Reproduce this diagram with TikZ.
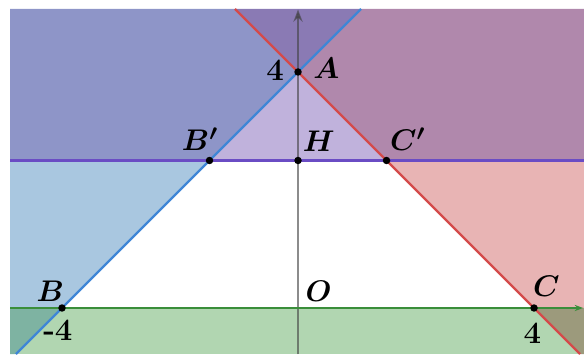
\documentclass[tikz,border=0pt]{standalone}
\usepackage{bm}
\usetikzlibrary{arrows.meta}
\definecolor{cTop}{HTML}{8A7AB4}
\definecolor{cUL}{HTML}{8E95C8}
\definecolor{cUR}{HTML}{B088AC}
\definecolor{cPur}{HTML}{C0B2DC}
\definecolor{cLB}{HTML}{A9C7E0}
\definecolor{cLR}{HTML}{E8B4B4}
\definecolor{cGr}{HTML}{B1D6B1}
\definecolor{cBL}{HTML}{7EB3A2}
\definecolor{cBR}{HTML}{9C9A7C}
\definecolor{lBlue}{HTML}{3F86D6}
\definecolor{lRed}{HTML}{D44A4A}
\definecolor{lPur}{HTML}{6A4CC4}
\definecolor{lGreen}{HTML}{3A8E3A}
\tikzset{
  lbl/.style={font=\fontsize{15}{18}\selectfont},
  pt/.style={circle,fill=black,inner sep=0pt,minimum size=3.6pt},
}
\begin{document}
\begin{tikzpicture}
\useasboundingbox (-5.051,-0.780) rectangle (4.847,5.220);
\def\xl{-4.881}\def\xr{4.847}\def\yb{-0.78}\def\yt{5.068}
% regions
\fill[cTop] (0,4) -- (-1.068,\yt) -- (1.068,\yt) -- cycle;
\fill[cUL] (\xl,2.5) -- (-1.5,2.5) -- (0,4) -- (-1.068,\yt) -- (\xl,\yt) -- cycle;
\fill[cUR] (1.5,2.5) -- (\xr,2.5) -- (\xr,\yt) -- (1.068,\yt) -- (0,4) -- cycle;
\fill[cPur] (-1.5,2.5) -- (1.5,2.5) -- (0,4) -- cycle;
\fill[cLB] (\xl,0) -- (-4,0) -- (-1.5,2.5) -- (\xl,2.5) -- cycle;
\fill[cLR] (4,0) -- (\xr,0) -- (\xr,2.5) -- (1.5,2.5) -- cycle;
\fill[cGr] (\xl,\yb) rectangle (\xr,0);
\fill[cBL] (\xl,0) -- (-4,0) -- (-4.78,\yb) -- (\xl,\yb) -- cycle;
\fill[cBR] (4,0) -- (\xr,0) -- (\xr,\yb) -- (4.78,\yb) -- cycle;
% points
\coordinate (A) at (0,4);
\coordinate (B) at (-4,0);
\coordinate (C) at (4,0);
\coordinate (Bp) at (-1.5,2.5);
\coordinate (Cp) at (1.5,2.5);
\coordinate (H) at (0,2.5);
\coordinate (O) at (0,0);
\coordinate (yb) at (0,\yb);
\coordinate (yt) at (0,5.06);
\coordinate (xl) at (\xl,0);
\coordinate (xr) at (4.83,0);
\coordinate (hl) at (\xl,2.5);
\coordinate (hr) at (\xr,2.5);
\coordinate (ab1) at (-4.78,\yb);
\coordinate (ab2) at (1.068,\yt);
\coordinate (ac1) at (-1.068,\yt);
\coordinate (ac2) at (4.78,\yb);
% axes
\draw[black!75,opacity=0.6,line width=0.8pt,-{Stealth[length=6pt,width=4.5pt]}] (yb) -- (yt);
\draw[lGreen,line width=1.1pt,-{Stealth[length=4pt,width=3pt]}] (xl) -- (xr);
% lines
\draw[lPur,line width=1.1pt] (hl) -- (hr);
\draw[lBlue,line width=1.1pt] (ab1) -- (ab2);
\draw[lRed,line width=1.1pt] (ac1) -- (ac2);
% dots
\node[pt] (nA) at (A) {};
\node[pt] (nB) at (B) {};
\node[pt] (nC) at (C) {};
\node[pt] (nBp) at (Bp) {};
\node[pt] (nCp) at (Cp) {};
\node[pt] (nH) at (H) {};
% labels
\node[lbl] (tA) at (0.48,4.07) {$\bm{A}$};
\node[lbl] (t4a) at (-0.39,4.03) {\textbf{4}};
\node[lbl] (tBp) at (-1.66,2.86) {$\bm{B'}$};
\node[lbl] (tH) at (0.35,2.82) {$\bm{H}$};
\node[lbl] (tCp) at (1.86,2.86) {$\bm{C'}$};
\node[lbl] (tB) at (-4.2,0.28) {$\bm{B}$};
\node[lbl] (tm4) at (-4.07,-0.37) {\textbf{-4}};
\node[lbl] (tO) at (0.35,0.29) {$\bm{O}$};
\node[lbl] (tC) at (4.21,0.36) {$\bm{C}$};
\node[lbl] (t4b) at (3.97,-0.42) {\textbf{4}};
\end{tikzpicture}
\end{document}
